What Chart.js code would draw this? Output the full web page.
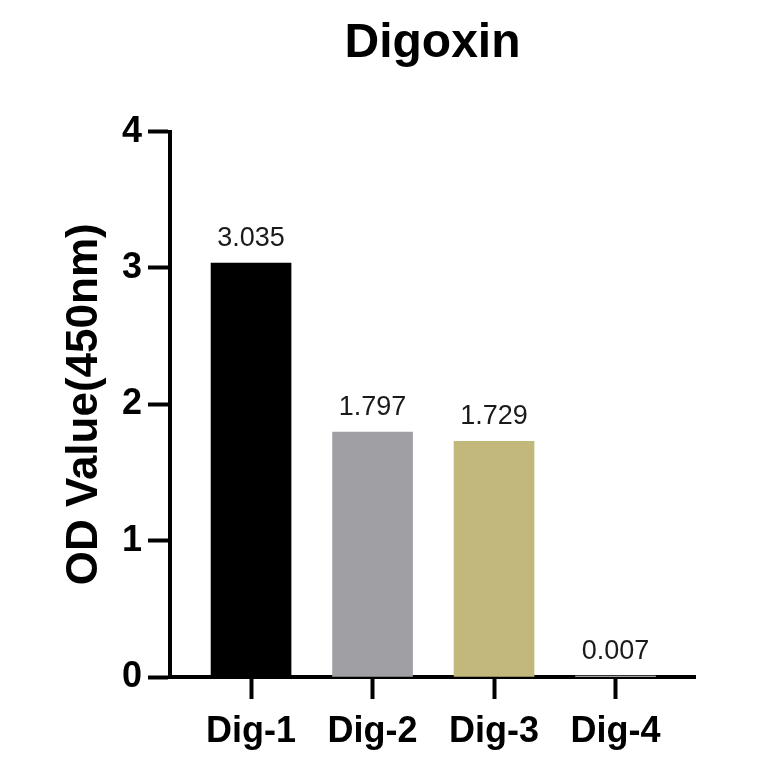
<!DOCTYPE html>
<html>
<head>
<meta charset="utf-8">
<script src="https://cdn.jsdelivr.net/npm/chart.js@4"></script>
<style>
  html, body { margin: 0; padding: 0; background: #fff; }
  #wrap { width: 764px; height: 764px; }
</style>
</head>
<body>
<div id="wrap"><canvas id="chart" width="764" height="764"></canvas></div>
<script>
const categories = ["Dig-1", "Dig-2", "Dig-3", "Dig-4"];
const odValues = [3.035, 1.797, 1.729, 0.007];
const barColors = ["#000000", "#a0a0a4", "#c3b87c", "#d9d9d9"];
const yTicks = [0, 1, 2, 3, 4];

const FONT = "'Liberation Sans', Arial, Helvetica, sans-serif";

// value labels above each bar
const valueLabels = {
  id: "valueLabels",
  afterDatasetsDraw: (chart) => {
    const { ctx } = chart;
    const meta = chart.getDatasetMeta(0);
    ctx.save();
    ctx.font = `27px ${FONT}`;
    ctx.fillStyle = "#1a1a1a";
    ctx.textAlign = "center";
    ctx.textBaseline = "alphabetic";
    meta.data.forEach((bar, i) => {
      ctx.fillText(odValues[i].toFixed(3), bar.x, bar.y - 17);
    });
    ctx.restore();
  },
};

const canvas = document.getElementById("chart");
new Chart(canvas, {
  type: "bar",
  data: {
    datasets: [
      {
        data: odValues.map((v, i) => ({ x: i, y: v })),
        backgroundColor: barColors,
        borderWidth: 0,
        barThickness: 80,
      },
    ],
  },
  options: {
    responsive: false,
    animation: false,
    devicePixelRatio: 1,
    layout: { padding: { left: 0, right: 69, top: 0, bottom: 0 } },
    scales: {
      x: {
        type: "linear",
        offset: false,
        min: -0.667,
        max: 3.654,
        afterBuildTicks: (scale) => {
          scale.ticks = categories.map((_, i) => ({ value: i }));
        },
        afterFit: (scale) => {
          scale.height = 87;
        },
        ticks: {
          callback: (value) => categories[value],
          color: "#000",
          font: { family: FONT, size: 36, weight: "bold" },
          padding: 11,
          maxRotation: 0,
          autoSkip: false,
        },
        grid: {
          offset: false,
          drawOnChartArea: false,
          drawTicks: true,
          tickLength: 22,
          tickWidth: 4,
          tickColor: "#000",
        },
        border: { color: "#000", width: 4 },
      },
      y: {
        min: 0,
        max: 4,
        afterBuildTicks: (scale) => {
          scale.ticks = yTicks.map((v) => ({ value: v }));
        },
        afterFit: (scale) => {
          scale.width = 170;
        },
        ticks: {
          color: "#000",
          font: { family: FONT, size: 36, weight: "bold" },
          padding: 6,
        },
        grid: {
          drawOnChartArea: false,
          drawTicks: true,
          tickLength: 22,
          tickWidth: 4,
          tickColor: "#000",
        },
        border: { color: "#000", width: 4 },
        title: {
          display: true,
          text: "OD Value(450nm)",
          color: "#000",
          font: { family: FONT, size: 44, weight: "bold" },
          padding: { top: 58, bottom: 0 },
        },
      },
    },
    plugins: {
      legend: { display: false },
      tooltip: { enabled: false },
      title: {
        display: true,
        fullSize: false,
        text: "Digoxin",
        color: "#000",
        font: { family: FONT, size: 48, weight: "bold" },
        padding: { top: 15, bottom: 59 },
      },
    },
  },
  plugins: [valueLabels],
});
</script>
</body>
</html>
